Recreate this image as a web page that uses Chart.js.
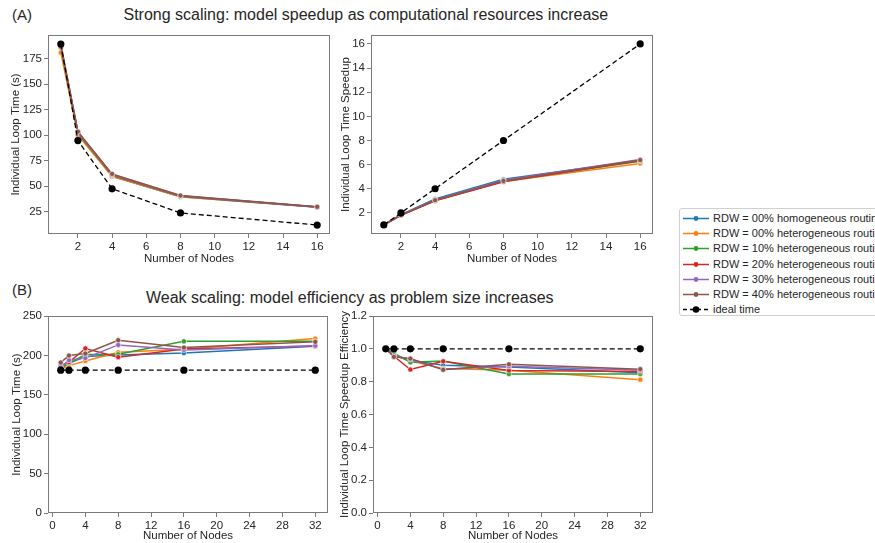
<!DOCTYPE html>
<html>
<head>
<meta charset="utf-8">
<script src="https://cdn.jsdelivr.net/npm/chart.js@4.4.1/dist/chart.umd.min.js"></script>
<style>
  html, body { margin: 0; padding: 0; background: #fff; }
  body { width: 875px; height: 543px; position: relative; overflow: hidden; font-family: "Liberation Sans", Arial, sans-serif; color: #262626; }
  .cv { position: absolute; }
  .ttl { position: absolute; font-size: 16px; white-space: nowrap; line-height: 1; }
  #legend { position: absolute; left: 679px; top: 208px; width: 240px; height: 108px; border: 1px solid #d0d0d0; border-radius: 3px; background: #fff; box-sizing: border-box; }
  .row { position: absolute; left: 0; height: 14px; font-size: 11px; line-height: 14px; white-space: nowrap; }
  .row canvas { position: absolute; left: 2px; top: 0; }
  .row span { position: absolute; left: 33px; top: 0; }
</style>
</head>
<body>
<div class="ttl" style="left:12px; top:7px; font-size:15px;">(A)</div>
<div class="ttl" id="titleA" style="top:7px;">Strong scaling: model speedup as computational resources increase</div>
<div class="ttl" style="left:12px; top:282px; font-size:15px;">(B)</div>
<div class="ttl" id="titleB" style="top:290px;">Weak scaling: model efficiency as problem size increases</div>

<canvas id="c1" class="cv"></canvas>
<canvas id="c2" class="cv"></canvas>
<canvas id="c3" class="cv"></canvas>
<canvas id="c4" class="cv"></canvas>
<div id="legend"></div>

<script>
// ---------- DATA ----------
const seriesNames = [
  "RDW = 00% homogeneous routing",
  "RDW = 00% heterogeneous routing",
  "RDW = 10% heterogeneous routing",
  "RDW = 20% heterogeneous routing",
  "RDW = 30% heterogeneous routing",
  "RDW = 40% heterogeneous routing"
];
const idealName = "ideal time";
const seriesColors = ["#1f77b4", "#ff7f0e", "#2ca02c", "#d62728", "#9467bd", "#8c564b"];

// Strong scaling
const strongNodes = [1, 2, 4, 8, 16];
const strongTime00hom = [187, 102, 59.5, 39.5, 29.3];
const strongTime00het = [181, 100, 59.5, 39.6, 29.6];
const strongTime10 = [186, 102, 60.5, 40.0, 29.6];
const strongTime20 = [187, 103, 61.0, 40.3, 29.4];
const strongTime30 = [189, 103, 61.5, 40.5, 29.4];
const strongTime40 = [189, 103.5, 62.0, 40.8, 29.7];
const strongTimeIdeal = [189.5, 94.75, 47.4, 23.7, 11.8];

const speedup00hom = [1, 1.85, 3.15, 4.78, 6.35];
const speedup00het = [1, 1.80, 3.02, 4.60, 6.10];
const speedup10 = [1, 1.82, 3.05, 4.65, 6.28];
const speedup20 = [1, 1.80, 3.00, 4.58, 6.35];
const speedup30 = [1, 1.83, 3.08, 4.70, 6.42];
const speedup40 = [1, 1.82, 3.05, 4.65, 6.38];
const speedupIdeal = [1, 2, 4, 8, 16];

// Weak scaling
const weakNodes = [1, 2, 4, 8, 16, 32];
const weakTime00hom = [184.5, 190.0, 198.5, 200.6, 203.0, 211.6];
const weakTime00het = [182.4, 187.0, 193.0, 204.0, 207.8, 221.3];
const weakTime10 = [183.7, 190.0, 201.0, 201.4, 217.8, 217.8];
const weakTime20 = [187.0, 191.3, 208.8, 197.8, 208.2, 211.8];
const weakTime30 = [185.0, 194.0, 196.6, 213.3, 207.0, 212.4];
const weakTime40 = [191.0, 199.8, 202.4, 219.3, 210.0, 217.2];
const weakTimeIdeal = [181.2, 181.2, 181.2, 181.2, 181.2, 181.2];

const eff00hom = [1, 0.963, 0.930, 0.900, 0.890, 0.855];
const eff00het = [1, 0.960, 0.925, 0.880, 0.870, 0.812];
const eff10 = [1, 0.973, 0.918, 0.926, 0.847, 0.847];
const eff20 = [1, 0.955, 0.874, 0.924, 0.868, 0.862];
const eff30 = [1, 0.960, 0.935, 0.875, 0.894, 0.870];
const eff40 = [1, 0.951, 0.941, 0.872, 0.906, 0.876];
const effIdeal = [1, 1, 1, 1, 1, 1];

// Tick labels
const strongXTicks = [2, 4, 6, 8, 10, 12, 14, 16];
const strongTimeTicks = [25, 50, 75, 100, 125, 150, 175];
const speedupTicks = [2, 4, 6, 8, 10, 12, 14, 16];
const weakXTicks = [0, 4, 8, 12, 16, 20, 24, 28, 32];
const weakTimeTicks = [0, 50, 100, 150, 200, 250];
const effTicks = [0.0, 0.2, 0.4, 0.6, 0.8, 1.0, 1.2];

// ---------- RENDER ----------
const FONT = "'Liberation Sans', Arial, sans-serif";
const TXT = "#262626";
const FRAME = "#7a7a7a";

const framePlugin = {
  id: "frame",
  afterDraw(chart) {
    const a = chart.chartArea, ctx = chart.ctx;
    ctx.save();
    ctx.strokeStyle = FRAME;
    ctx.lineWidth = 1;
    ctx.strokeRect(Math.round(a.left) + 0.5, Math.round(a.top) + 0.5, Math.round(a.right - a.left) - 1, Math.round(a.bottom - a.top) - 1);
    ctx.restore();
  }
};

function makeDatasets(xs, ys, ideal) {
  const n = ys.length;
  const ds = ys.map((arr, i) => ({
    label: seriesNames[i],
    data: xs.map((x, k) => ({ x: x, y: arr[k] })),
    borderColor: seriesColors[i],
    backgroundColor: seriesColors[i],
    borderWidth: 1.5,
    pointRadius: 2.6,
    pointBorderColor: "#ffffff",
    pointBorderWidth: 0.6,
    pointBackgroundColor: seriesColors[i],
    tension: 0,
    order: n + 1 - i
  }));
  ds.push({
    label: idealName,
    data: xs.map((x, k) => ({ x: x, y: ideal[k] })),
    borderColor: "#000",
    backgroundColor: "#000",
    borderWidth: 1.3,
    borderDash: [5, 3],
    pointRadius: 3.6,
    pointBorderColor: "#000",
    pointBorderWidth: 0,
    pointBackgroundColor: "#000",
    tension: 0,
    order: 0
  });
  return ds;
}

function axis(min, max, ticks, title, fixedSize, isX, fmt) {
  return {
    type: "linear",
    min: min, max: max,
    afterBuildTicks(scale) { scale.ticks = ticks.map(v => ({ value: v })); },
    afterFit(scale) { if (isX) scale.height = fixedSize; else scale.width = fixedSize; },
    ticks: {
      color: TXT,
      font: { family: FONT, size: 11.5 },
      padding: 2,
      maxRotation: 0,
      autoSkip: false,
      callback: fmt || ((v) => String(v))
    },
    grid: { display: true, drawOnChartArea: false, drawTicks: true, tickLength: 4, color: FRAME, lineWidth: 1 },
    border: { display: false },
    title: { display: true, text: title, color: TXT, font: { family: FONT, size: 11.5 }, padding: isX ? { top: 1, bottom: 0 } : { top: 0, bottom: 3 } }
  };
}

function makeChart(id, box, area, xs, ys, ideal, xr, yr, xt, yt, ytitle, yfmt) {
  const cv = document.getElementById(id);
  cv.style.left = box.x + "px"; cv.style.top = box.y + "px";
  cv.style.width = box.w + "px"; cv.style.height = box.h + "px";
  cv.width = box.w; cv.height = box.h;
  return new Chart(cv, {
    type: "line",
    data: { datasets: makeDatasets(xs, ys, ideal) },
    options: {
      responsive: false,
      animation: false,
      devicePixelRatio: 1,
      layout: { padding: { left: 0, top: area.t - box.y, right: box.x + box.w - area.r, bottom: 0 } },
      plugins: { legend: { display: false }, tooltip: { enabled: false }, title: { display: false } },
      scales: {
        x: axis(xr[0], xr[1], xt, "Number of Nodes", box.y + box.h - area.b, true),
        y: axis(yr[0], yr[1], yt, ytitle, area.l - box.x, false, yfmt)
      }
    },
    plugins: [framePlugin]
  });
}

makeChart("c1", { x: 9, y: 26, w: 331, h: 240 }, { l: 48, t: 34, r: 330, b: 234 },
  strongNodes, [strongTime00hom, strongTime00het, strongTime10, strongTime20, strongTime30, strongTime40], strongTimeIdeal,
  [0.25, 16.75], [3, 198.5], strongXTicks, strongTimeTicks, "Individual Loop Time (s)");

makeChart("c2", { x: 339, y: 26, w: 321, h: 240 }, { l: 371, t: 34, r: 653, b: 234 },
  strongNodes, [speedup00hom, speedup00het, speedup10, speedup20, speedup30, speedup40], speedupIdeal,
  [0.25, 16.75], [0.25, 16.75], strongXTicks, speedupTicks, "Individual Loop Time Speedup");

makeChart("c3", { x: 10, y: 305, w: 330, h: 238 }, { l: 48, t: 316, r: 328, b: 513 },
  weakNodes, [weakTime00hom, weakTime00het, weakTime10, weakTime20, weakTime30, weakTime40], weakTimeIdeal,
  [-0.55, 33.55], [0, 250], weakXTicks, weakTimeTicks, "Individual Loop Time (s)");

makeChart("c4", { x: 338, y: 305, w: 322, h: 238 }, { l: 373, t: 316, r: 653, b: 513 },
  weakNodes, [eff00hom, eff00het, eff10, eff20, eff30, eff40], effIdeal,
  [-0.55, 33.55], [0, 1.2], weakXTicks, effTicks, "Individual Loop Time Speedup Efficiency", (v) => Number(v).toFixed(1));

// centre titles
function centre(id, cx) {
  const el = document.getElementById(id);
  el.style.left = (cx - el.offsetWidth / 2) + "px";
}
centre("titleA", 366);
centre("titleB", 350);

// legend
const legend = document.getElementById("legend");
const entries = seriesNames.map((n, i) => ({ name: n, color: seriesColors[i], dash: false }));
entries.push({ name: idealName, color: "#000", dash: true });
entries.forEach((e, i) => {
  const row = document.createElement("div");
  row.className = "row";
  row.style.top = (2 + i * 15.2) + "px";
  const ic = document.createElement("canvas");
  ic.width = 28; ic.height = 14;
  const c = ic.getContext("2d");
  c.strokeStyle = e.color; c.fillStyle = e.color;
  c.lineWidth = e.dash ? 1.3 : 1.5;
  if (e.dash) c.setLineDash([4, 3]);
  c.beginPath(); c.moveTo(1, 7.5); c.lineTo(27, 7.5); c.stroke();
  c.setLineDash([]);
  c.beginPath(); c.arc(14, 7.5, e.dash ? 3.3 : 2.4, 0, Math.PI * 2); c.fill();
  row.appendChild(ic);
  const sp = document.createElement("span");
  sp.textContent = e.name;
  row.appendChild(sp);
  legend.appendChild(row);
});
</script>
</body>
</html>
